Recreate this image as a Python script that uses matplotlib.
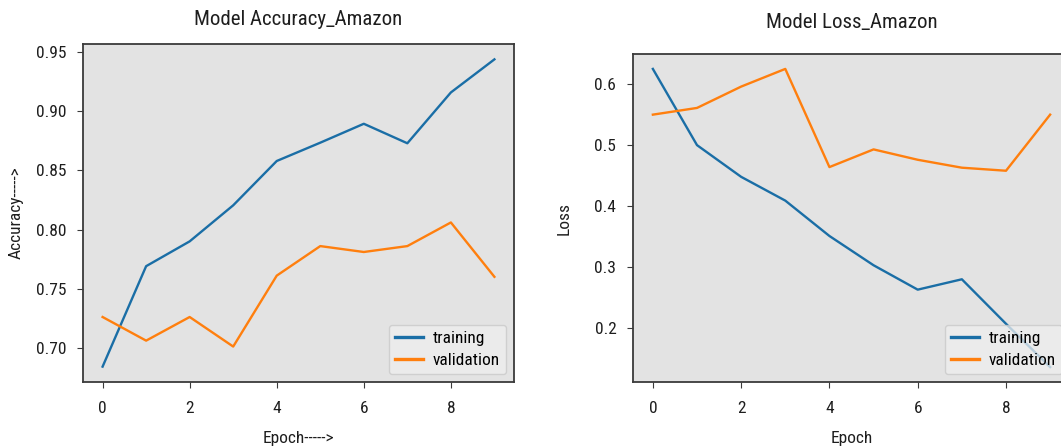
import matplotlib
matplotlib.use("Agg")
import matplotlib.pyplot as plt
from matplotlib import font_manager

# Training history (10 epochs)
epochs = list(range(10))
train_acc = [0.684, 0.769, 0.790, 0.8205, 0.858, 0.8735, 0.8895, 0.873, 0.916, 0.944]
val_acc = [0.726, 0.706, 0.726, 0.701, 0.761, 0.786, 0.781, 0.786, 0.806, 0.760]
train_loss = [0.625, 0.500, 0.448, 0.409, 0.351, 0.303, 0.263, 0.280, 0.207, 0.136]
val_loss = [0.550, 0.561, 0.596, 0.625, 0.464, 0.493, 0.476, 0.463, 0.458, 0.550]

acc_yticks = [0.70, 0.75, 0.80, 0.85, 0.90, 0.95]
loss_yticks = [0.2, 0.3, 0.4, 0.5, 0.6]
x_ticks = [0, 2, 4, 6, 8]
series_labels = ["training", "validation"]

# Prefer a narrow sans face; fall back to Lato
names = {f.name for f in font_manager.fontManager.ttflist}
family, fsize = "Lato", 12
for cand, size in [("Liberation Sans Narrow", 12.5), ("Roboto Condensed", 12.5),
                   ("Open Sans Condensed", 12.5)]:
    if cand in names:
        family, fsize = cand, size
        break

plt.rcParams.update({
    "font.family": [family, "DejaVu Sans"],
    "font.size": fsize,
    "axes.edgecolor": "#3a3a3a",
    "axes.linewidth": 1.3,
    "xtick.color": "#3a3a3a",
    "ytick.color": "#3a3a3a",
    "xtick.labelcolor": "#1e1e1e",
    "ytick.labelcolor": "#1e1e1e",
})

BLUE = "#1a6ea6"
ORANGE = "#ff7f0e"
BG = "#e3e3e3"

W, H = 1061, 448
fig = plt.figure(figsize=(W / 100, H / 100), dpi=100)


def px_axes(left, top, right, bottom):
    return fig.add_axes([left / W, 1 - bottom / H, (right - left) / W, (bottom - top) / H])


ax1 = px_axes(83, 44, 514, 382)
ax2 = px_axes(633, 54, 1070, 382)

panels = [
    (ax1, train_acc, val_acc, acc_yticks, "Model Accuracy_Amazon", "Epoch----->", "Accuracy----->", 14),
    (ax2, train_loss, val_loss, loss_yticks, "Model Loss_Amazon", "Epoch", "Loss", 19),
]

for ax, tr, va, yt, title, xl, yl, tpad in panels:
    ax.set_facecolor(BG)
    ax.plot(epochs, tr, color=BLUE, lw=1.7, label=series_labels[0])
    ax.plot(epochs, va, color=ORANGE, lw=1.7, label=series_labels[1])
    ax.set_xticks(x_ticks)
    ax.set_yticks(yt)
    if ax is ax1:
        ax.set_yticklabels([f"{v:.2f}" for v in yt])
    else:
        ax.set_yticklabels([f"{v:.1f}" for v in yt])
    ax.tick_params(axis="x", length=4, pad=10)
    ax.tick_params(axis="y", length=4, pad=8)
    ax.set_title(title, pad=tpad, color="#1e1e1e")
    ax.set_xlabel(xl, color="#1e1e1e")
    ax.set_ylabel(yl, color="#1e1e1e")
    leg = ax.legend(loc="lower right", frameon=True, fancybox=True,
                    facecolor="#eeeeee", edgecolor="#c8c8c8", framealpha=0.75,
                    handlelength=1.6, handletextpad=0.55, borderpad=0.38,
                    labelspacing=0.35, borderaxespad=0.45)
    for line in leg.get_lines():
        line.set_linewidth(2.4)

ax1.xaxis.set_label_coords(0.5, -0.145)
ax2.xaxis.set_label_coords(0.5, -0.15)
ax1.yaxis.set_label_coords(-0.137, 0.5)
ax2.yaxis.set_label_coords(-0.14, 0.5)

fig.savefig("out.png", dpi=100, facecolor="white")
